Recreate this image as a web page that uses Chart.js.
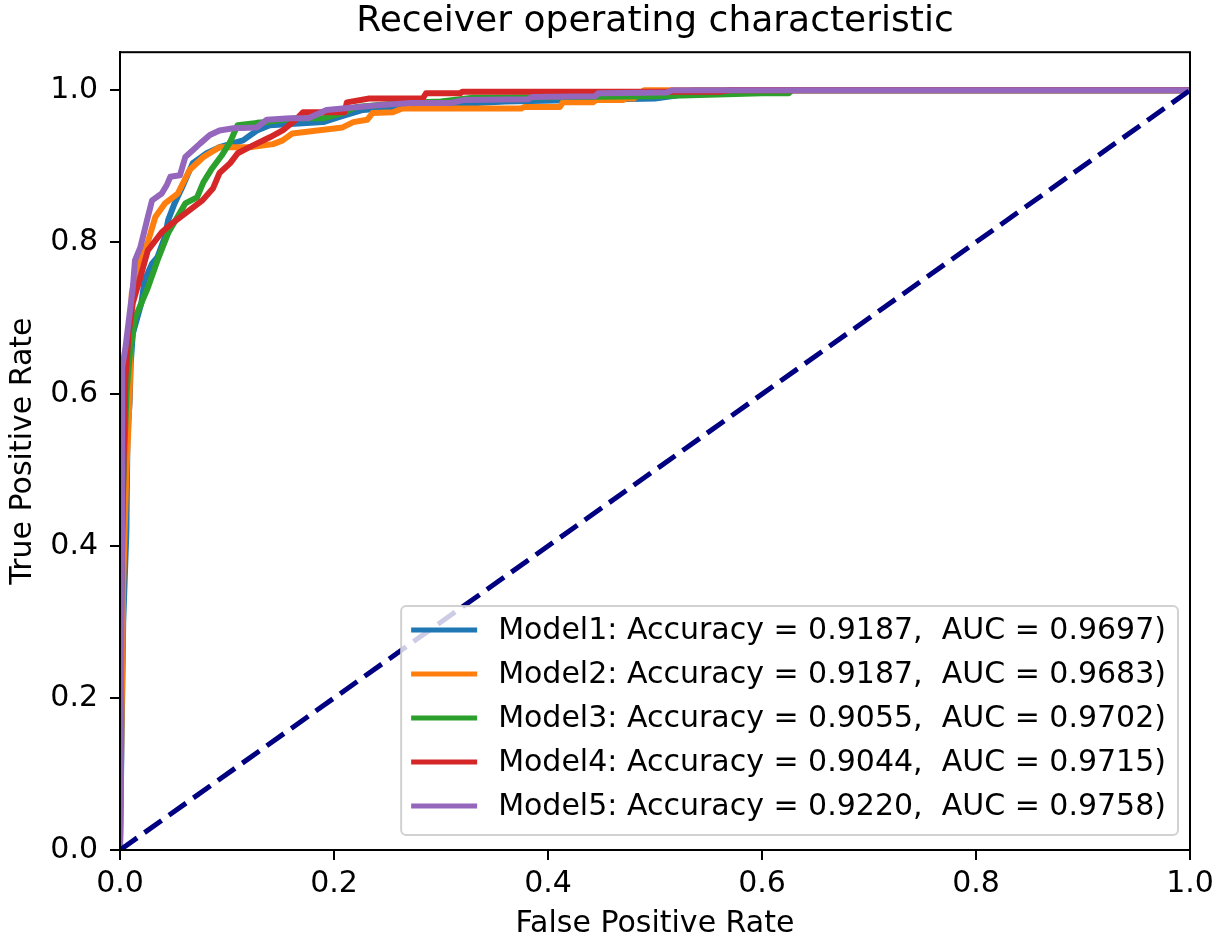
<!DOCTYPE html>
<html lang="en">
<head>
    <meta charset="UTF-8">
    <title>Receiver operating characteristic</title>
    <script src="https://cdn.jsdelivr.net/npm/chart.js"></script>
    <style>
        html, body { margin: 0; padding: 0; background: #fff; }
    </style>
</head>
<body>
    <canvas id="rocChart" width="1225" height="945"></canvas>
    <script>
        // Input data
        const modelLabels = [
            'Model1: Accuracy = 0.9187,  AUC = 0.9697)',
            'Model2: Accuracy = 0.9187,  AUC = 0.9683)',
            'Model3: Accuracy = 0.9055,  AUC = 0.9702)',
            'Model4: Accuracy = 0.9044,  AUC = 0.9715)',
            'Model5: Accuracy = 0.9220,  AUC = 0.9758)'
        ];

        const model1Fpr = [0, 0.003, 0.006, 0.007, 0.009, 0.010, 0.012, 0.020, 0.023, 0.030, 0.035, 0.042, 0.045, 0.051, 0.058, 0.068, 0.081, 0.093, 0.115, 0.128, 0.140, 0.190, 0.203, 0.227, 0.262, 0.360, 0.500, 0.520, 0.535, 1.0];
        const model1Tpr = [0, 0.30, 0.42, 0.55, 0.59, 0.64, 0.68, 0.72, 0.75, 0.772, 0.78, 0.807, 0.829, 0.851, 0.872, 0.904, 0.917, 0.925, 0.934, 0.947, 0.954, 0.958, 0.964, 0.974, 0.978, 0.985, 0.989, 0.993, 1.0, 1.0];

        const model2Fpr = [0, 0.003, 0.006, 0.008, 0.009, 0.011, 0.017, 0.026, 0.033, 0.042, 0.054, 0.065, 0.078, 0.093, 0.121, 0.143, 0.152, 0.161, 0.208, 0.218, 0.231, 0.236, 0.255, 0.264, 0.375, 0.378, 0.411, 0.414, 0.442, 0.445, 0.470, 0.473, 0.480, 0.490, 1.0];
        const model2Tpr = [0, 0.35, 0.50, 0.56, 0.60, 0.733, 0.772, 0.80, 0.833, 0.851, 0.864, 0.895, 0.912, 0.925, 0.925, 0.929, 0.934, 0.943, 0.951, 0.958, 0.961, 0.970, 0.971, 0.976, 0.976, 0.978, 0.978, 0.984, 0.984, 0.987, 0.987, 0.989, 0.989, 1.0, 1.0];

        const model3Fpr = [0, 0.001, 0.003, 0.006, 0.009, 0.014, 0.026, 0.035, 0.045, 0.061, 0.072, 0.078, 0.086, 0.095, 0.103, 0.107, 0.110, 0.128, 0.137, 0.165, 0.190, 0.208, 0.221, 0.264, 0.300, 0.330, 0.500, 0.600, 0.625, 0.628, 1.0];
        const model3Tpr = [0, 0.31, 0.48, 0.60, 0.65, 0.70, 0.74, 0.776, 0.812, 0.851, 0.859, 0.879, 0.897, 0.914, 0.932, 0.945, 0.954, 0.957, 0.958, 0.963, 0.963, 0.970, 0.978, 0.983, 0.985, 0.990, 0.992, 0.996, 0.996, 1.0, 1.0];

        const model4Fpr = [0, 0.001, 0.002, 0.004, 0.005, 0.008, 0.012, 0.019, 0.026, 0.039, 0.049, 0.061, 0.077, 0.087, 0.093, 0.103, 0.110, 0.121, 0.140, 0.152, 0.165, 0.171, 0.210, 0.212, 0.233, 0.283, 0.286, 0.318, 0.320, 0.560, 0.570, 1.0];
        const model4Tpr = [0, 0.33, 0.42, 0.55, 0.62, 0.68, 0.72, 0.754, 0.789, 0.813, 0.825, 0.838, 0.855, 0.871, 0.891, 0.904, 0.917, 0.925, 0.938, 0.947, 0.962, 0.971, 0.971, 0.984, 0.989, 0.989, 0.996, 0.996, 0.998, 0.998, 1.0, 1.0];

        const model5Fpr = [0, 0.002, 0.002, 0.005, 0.009, 0.012, 0.014, 0.019, 0.026, 0.030, 0.039, 0.044, 0.047, 0.056, 0.061, 0.068, 0.075, 0.084, 0.093, 0.106, 0.128, 0.137, 0.159, 0.176, 0.193, 0.208, 0.240, 0.271, 0.308, 0.321, 0.381, 0.385, 0.444, 0.447, 0.511, 0.516, 1.0];
        const model5Tpr = [0, 0.45, 0.635, 0.66, 0.706, 0.74, 0.776, 0.793, 0.833, 0.855, 0.864, 0.876, 0.886, 0.888, 0.912, 0.921, 0.930, 0.941, 0.947, 0.950, 0.951, 0.961, 0.963, 0.963, 0.974, 0.976, 0.980, 0.983, 0.983, 0.987, 0.988, 0.991, 0.992, 0.996, 0.997, 1.0, 1.0];

        // chance line
        const chanceFpr = [0, 1];
        const chanceTpr = [0, 1];

        const tickValues = [0, 0.2, 0.4, 0.6, 0.8, 1.0];

        const modelColors = ['#1f77b4', '#ff7f0e', '#2ca02c', '#d62728', '#9467bd'];
        const fprs = [model1Fpr, model2Fpr, model3Fpr, model4Fpr, model5Fpr];
        const tprs = [model1Tpr, model2Tpr, model3Tpr, model4Tpr, model5Tpr];

        const toPoints = (xs, ys) => xs.map((x, i) => ({x: x, y: ys[i]}));

        Chart.defaults.font.family = "'DejaVu Sans', sans-serif";
        Chart.defaults.color = '#000';

        const datasets = fprs.map((fpr, i) => ({
            label: modelLabels[i],
            data: toPoints(fpr, tprs[i]),
            borderColor: modelColors[i],
            backgroundColor: modelColors[i],
            borderWidth: 6,
            borderJoinStyle: 'round',
            pointRadius: 0,
            tension: 0,
            fill: false,
            order: 6 - i   // later models sit on top
        }));
        datasets.push({
            label: 'chance',
            data: toPoints(chanceFpr, chanceTpr),
            borderColor: '#000080',
            borderWidth: 5,
            borderDash: [21, 9],
            pointRadius: 0,
            fill: false,
            order: 0
        });

        // matplotlib style box + legend in the lower right of the axes
        const boxAndLegend = {
            id: 'boxAndLegend',
            afterDatasetsDraw(chart) {
                const ctx = chart.ctx;
                const a = chart.chartArea;
                ctx.save();
                ctx.strokeStyle = '#000';
                ctx.lineWidth = 2;
                ctx.strokeRect(a.left, a.top, a.right - a.left, a.bottom - a.top);

                ctx.font = "30px 'DejaVu Sans'";
                let textW = 0;
                modelLabels.forEach(t => { textW = Math.max(textW, ctx.measureText(t).width); });
                const rowH = 44;
                const w = 10 + 66 + 21 + textW + 12;
                const h = 24 + rowH * (modelLabels.length - 1) + 29;
                const x0 = a.right - 12 - w;
                const y0 = a.bottom - 15 - h;

                ctx.beginPath();
                if (ctx.roundRect) ctx.roundRect(x0, y0, w, h, 5);
                else ctx.rect(x0, y0, w, h);
                ctx.fillStyle = 'rgba(255,255,255,0.8)';
                ctx.fill();
                ctx.strokeStyle = 'rgba(204,204,204,0.9)';
                ctx.lineWidth = 2;
                ctx.stroke();

                ctx.textBaseline = 'middle';
                ctx.textAlign = 'left';
                modelLabels.forEach((t, i) => {
                    const y = y0 + 24 + i * rowH;
                    ctx.strokeStyle = modelColors[i];
                    ctx.lineWidth = 5;
                    ctx.beginPath();
                    ctx.moveTo(x0 + 10, y);
                    ctx.lineTo(x0 + 76, y);
                    ctx.stroke();
                    ctx.fillStyle = '#000';
                    ctx.fillText(t, x0 + 97, y + 1);
                });
                ctx.restore();
            }
        };

        const ctx = document.getElementById('rocChart').getContext('2d');
        const rocChart = new Chart(ctx, {
            type: 'line',
            data: { datasets: datasets },
            plugins: [boxAndLegend],
            options: {
                responsive: false,
                animation: false,
                devicePixelRatio: 1,
                layout: { padding: { left: 0, right: 35, top: 0, bottom: 0 } },
                plugins: {
                    legend: { display: false },
                    tooltip: { enabled: false },
                    title: {
                        display: true,
                        text: 'Receiver operating characteristic',
                        fullSize: false,
                        color: '#000',
                        font: { size: 36, weight: 'normal' },
                        padding: { top: 0, bottom: 9 }
                    }
                },
                scales: {
                    x: {
                        type: 'linear',
                        min: 0,
                        max: 1,
                        afterFit: s => { s.height = 95; },
                        afterBuildTicks: s => { s.ticks = tickValues.map(v => ({value: v})); },
                        ticks: {
                            callback: v => v.toFixed(1),
                            font: { size: 30 },
                            color: '#000',
                            padding: 6,
                            maxRotation: 0
                        },
                        grid: { drawOnChartArea: false, drawTicks: true, tickLength: 10, color: '#000', lineWidth: 2 },
                        border: { display: true, color: '#000', width: 2 },
                        title: {
                            display: true,
                            text: 'False Positive Rate',
                            font: { size: 30 },
                            color: '#000',
                            padding: { top: 0, bottom: 3 }
                        }
                    },
                    y: {
                        type: 'linear',
                        min: 0,
                        max: 1.05,
                        afterFit: s => { s.width = 120; },
                        afterBuildTicks: s => { s.ticks = tickValues.map(v => ({value: v})); },
                        ticks: {
                            callback: v => v.toFixed(1),
                            font: { size: 30 },
                            color: '#000',
                            padding: 12
                        },
                        grid: { drawOnChartArea: false, drawTicks: true, tickLength: 10, color: '#000', lineWidth: 2 },
                        border: { display: true, color: '#000', width: 2 },
                        title: {
                            display: true,
                            text: 'True Positive Rate',
                            font: { size: 30 },
                            color: '#000',
                            padding: { top: 5, bottom: 0 }
                        }
                    }
                }
            }
        });
    </script>
</body>
</html>
